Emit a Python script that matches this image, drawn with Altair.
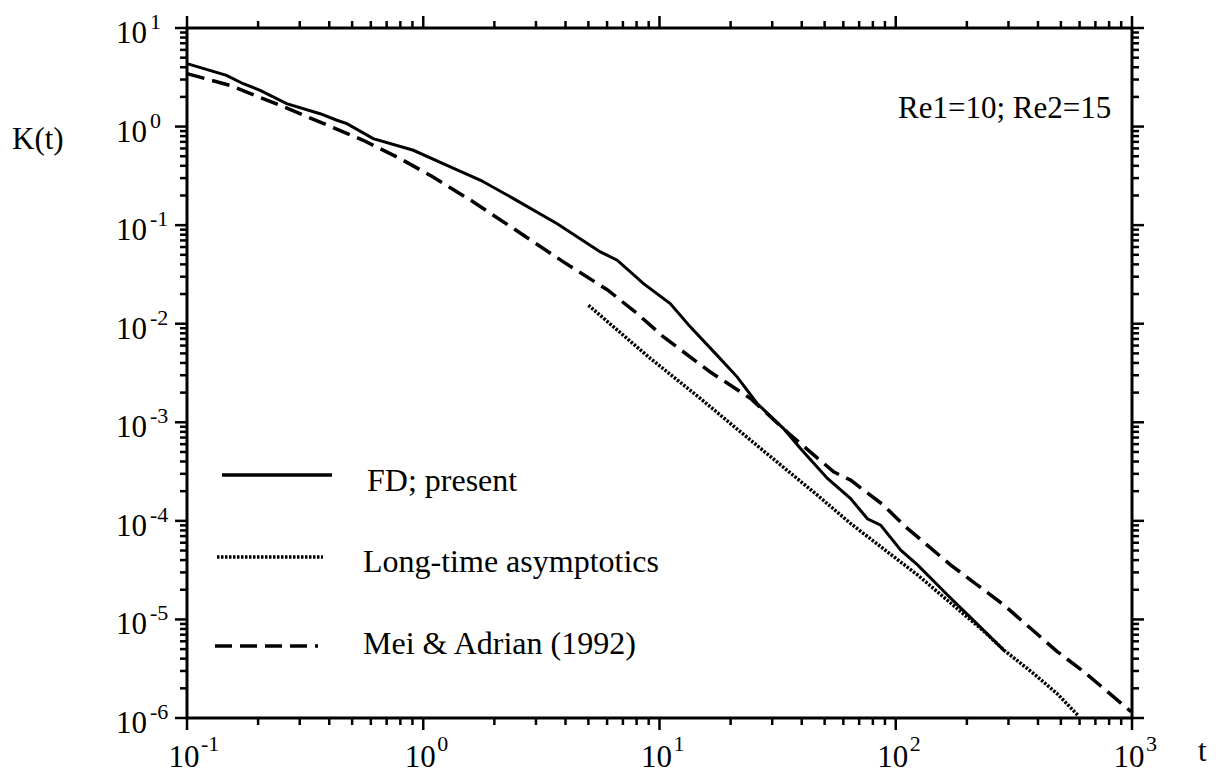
import altair as alt
import pandas as pd

# ---------------- data ----------------
# FD; present (solid)
fd_t = [0.100, 0.147, 0.173, 0.204, 0.264, 0.366, 0.431, 0.475, 0.614, 0.908,
        1.26, 1.75, 2.41, 3.69, 5.62, 6.62, 8.56, 11.1, 13.5, 17.5, 21.3, 25.9,
        33.5, 39.5, 51.4, 64.4, 75.9, 86.3, 105, 124, 166, 222, 287]
fd_k = [4.35, 3.31, 2.72, 2.33, 1.71, 1.35, 1.16, 1.07, 0.754, 0.575,
        0.405, 0.285, 0.186, 0.1035, 0.0535, 0.0441, 0.0255, 0.0160, 0.00929,
        0.00480, 0.00289, 0.00155, 0.000863, 0.000541, 0.000269, 0.000168,
        0.000105, 9.04e-5, 5.05e-5, 3.56e-5, 1.76e-5, 8.9e-6, 4.85e-6]

# Mei & Adrian (1992) (dashed)
ma_t = [0.1, 0.152, 0.248, 0.366, 0.557, 0.800, 1.10, 1.63, 2.41, 3.92, 6.03,
        8.05, 10.4, 16.4, 24.3, 35.9, 54.6, 64.4, 88.9, 108, 171, 287, 484,
        626, 991]
ma_k = [3.44, 2.62, 1.64, 1.11, 0.726, 0.472, 0.308, 0.172, 0.0922, 0.0424,
        0.0220, 0.01265, 0.00734, 0.00324, 0.00174, 0.00074, 0.000314,
        0.000259, 0.000144, 9.04e-5, 3.56e-5, 1.40e-5, 4.69e-6, 2.94e-6,
        1.16e-6]

# Long-time asymptotics (dotted)
lt_t = [5.0, 9.16, 14.9, 24.3, 46.6, 64.4, 124, 236, 288, 385, 484, 589]
lt_k = [0.0154, 0.00443, 0.00174, 0.000658, 0.000182, 9.4e-5, 2.81e-5,
        7.6e-6, 4.85e-6, 2.8e-6, 1.75e-6, 1.07e-6]

# axis ticks / labels
x_major = [0.1, 1, 10, 100, 1000]
x_exp = ["-1", "0", "1", "2", "3"]
x_minor = [m * 10.0 ** k for k in range(-1, 3) for m in range(2, 10)]
y_major = [10.0 ** k for k in range(-6, 2)]
y_exp = ["-6", "-5", "-4", "-3", "-2", "-1", "0", "1"]
y_minor = [m * 10.0 ** k for k in range(-6, 1) for m in range(2, 10)]

legend_labels = ["FD; present", "Long-time asymptotics", "Mei & Adrian (1992)"]
annotation = "Re1=10; Re2=15"

# ---------------- chart ----------------
W, H = 945, 690
FONT = "Liberation Serif"
xs = alt.Scale(type="log", domain=[0.1, 1000], nice=False)
ys = alt.Scale(type="log", domain=[1e-6, 10], nice=False)


def X():
    return alt.X("t:Q", scale=xs, axis=None)


def Y():
    return alt.Y("K:Q", scale=ys, axis=None)


def line(ts, ks, dash, width):
    d = pd.DataFrame({"t": ts, "K": ks})
    kw = dict(color="black", strokeWidth=width, strokeCap="butt")
    if dash:
        kw["strokeDash"] = dash
    return alt.Chart(d).mark_line(**kw).encode(x=X(), y=Y())


solid = line(fd_t, fd_k, None, 3)
dashed = line(ma_t, ma_k, [18, 8], 3.5)
dotted = line(lt_t, lt_k, [2.5, 1.5], 3.5)

layers = [dotted, dashed, solid]

# ticks (outward on all four sides)
for vals, ln in [(x_major, 12), (x_minor, 7)]:
    d = pd.DataFrame({"t": vals})
    base = alt.Chart(d).mark_rule(color="black", strokeWidth=2.5)
    layers.append(base.encode(x=X(), y=alt.value(H), y2=alt.value(H + ln)))
    layers.append(base.encode(x=X(), y=alt.value(0), y2=alt.value(-ln)))
for vals, ln in [(y_major, 12), (y_minor, 7)]:
    d = pd.DataFrame({"K": vals})
    base = alt.Chart(d).mark_rule(color="black", strokeWidth=2.5)
    layers.append(base.encode(y=Y(), x=alt.value(0), x2=alt.value(-ln)))
    layers.append(base.encode(y=Y(), x=alt.value(W), x2=alt.value(W + ln)))

# tick labels 10^n
xl = pd.DataFrame({"t": x_major, "base": ["10"] * len(x_major), "exp": x_exp})
layers.append(alt.Chart(xl).mark_text(font=FONT, fontSize=31, align="center",
                                      baseline="alphabetic", dx=-3)
              .encode(x=X(), y=alt.value(H + 49), text="base:N"))
layers.append(alt.Chart(xl).mark_text(font=FONT, fontSize=22, align="left",
                                      baseline="alphabetic", dx=14)
              .encode(x=X(), y=alt.value(H + 33), text="exp:N"))

yl = pd.DataFrame({"K": y_major, "base": ["10"] * len(y_major), "exp": y_exp})
layers.append(alt.Chart(yl).mark_text(font=FONT, fontSize=31, align="right",
                                      baseline="alphabetic", dy=15)
              .encode(y=Y(), x=alt.value(-40), text="base:N"))
layers.append(alt.Chart(yl).mark_text(font=FONT, fontSize=22, align="left",
                                      baseline="alphabetic", dy=1)
              .encode(y=Y(), x=alt.value(-37), text="exp:N"))

one = pd.DataFrame({"a": [0]})


def txt(s, x, y, size=31, align="left"):
    return alt.Chart(one).mark_text(text=s, font=FONT, fontSize=size, align=align,
                                    baseline="alphabetic", color="black").encode(
        x=alt.value(x), y=alt.value(y))


layers.append(txt("K(t)", -175, 121))
layers.append(txt("t", 1011, 733))
layers.append(txt(annotation, 711, 90))

# manual legend
layers.append(alt.Chart(one).mark_rule(color="black", strokeWidth=3.5).encode(
    x=alt.value(35), x2=alt.value(145), y=alt.value(447)))
layers.append(alt.Chart(one).mark_rule(color="black", strokeWidth=3.5, strokeDash=[2.5, 1.5]).encode(
    x=alt.value(30), x2=alt.value(136), y=alt.value(529)))
layers.append(alt.Chart(one).mark_rule(color="black", strokeWidth=3.5, strokeDash=[17, 8]).encode(
    x=alt.value(28), x2=alt.value(131), y=alt.value(618)))
layers.append(txt(legend_labels[0], 180, 463, size=32))
layers.append(txt(legend_labels[1], 176, 544, size=32))
layers.append(txt(legend_labels[2], 176, 626, size=32))

chart = alt.layer(*layers).properties(
    width=W, height=H,
    autosize=alt.AutoSizeParams(type="none"),
    padding={"left": 179, "top": 20, "right": 76, "bottom": 56},
    background="white",
).configure_view(stroke="black", strokeWidth=3)

chart.save("out.html", embed_options={"renderer": "svg", "actions": False})
